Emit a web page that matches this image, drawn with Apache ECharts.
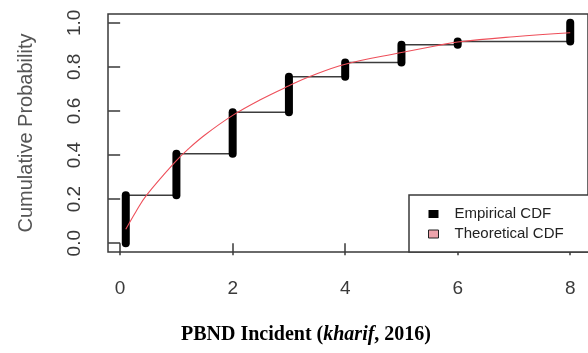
<!DOCTYPE html>
<html>
<head>
<meta charset="utf-8">
<script src="https://cdn.jsdelivr.net/npm/echarts@6/dist/echarts.min.js"></script>
<style>html,body{margin:0;padding:0;background:#fff}#c{width:588px;height:353px}</style>
</head>
<body>
<div id="c"></div>
<script>
// Empirical CDF: jump locations and cumulative levels
const ecdfX = [0.1, 1, 2, 3, 4, 5, 6, 8];
const ecdfLevel = [0.218, 0.406, 0.594, 0.755, 0.82, 0.90, 0.915, 1.0];
// Theoretical CDF curve
const theoX = [0.1, 0.28, 0.47, 1.0, 1.2, 1.5, 2.0, 2.5, 3.0, 3.36, 4.0, 5.0, 5.6, 6.0, 7.0, 8.0];
const theoY = [0.063, 0.143, 0.218, 0.375, 0.425, 0.49, 0.58, 0.652, 0.714, 0.755, 0.812, 0.865, 0.895, 0.913, 0.937, 0.955];
const xTicks = [0, 2, 4, 6, 8];
const yTicks = [0, 0.2, 0.4, 0.6, 0.8, 1.0];
const yTickLabels = ['0.0', '0.2', '0.4', '0.6', '0.8', '1.0'];

const vertData = ecdfX.map((x, i) => [x, i ? ecdfLevel[i - 1] : 0, ecdfLevel[i]]);
const horData = ecdfX.slice(0, -1).map((x, i) => [x, ecdfX[i + 1], ecdfLevel[i]]);
const theoData = theoX.map((x, i) => [x, theoY[i]]);

const chart = echarts.init(document.getElementById('c'), null, {renderer: 'canvas'});
const sans = 'Liberation Sans, Arial, sans-serif';
chart.setOption({
  animation: false,
  backgroundColor: '#fff',
  grid: {left: 108, top: 14, width: 482, height: 238, show: true, borderColor: '#3a3a3a', borderWidth: 1.5, backgroundColor: '#fff'},
  title: {
    left: 176, top: 320,
    text: '{b|PBND Incident (}{i|kharif}{b|, 2016)}',
    textStyle: {rich: {
      b: {fontFamily: 'Liberation Serif', fontWeight: 'bold', fontSize: 20, color: '#000'},
      i: {fontFamily: 'Liberation Serif', fontWeight: 'bold', fontStyle: 'italic', fontSize: 20, color: '#000'}
    }}
  },
  legend: {
    orient: 'vertical', left: 409, top: 195,
    padding: [10, 60, 9, 19],
    itemWidth: 10, itemHeight: 8, itemGap: 2,
    backgroundColor: '#fff', borderColor: '#3a3a3a', borderWidth: 1.5, borderRadius: 0,
    textStyle: {fontFamily: sans, fontSize: 15, color: '#222', lineHeight: 18, padding: [0, 0, 0, 11]},
    data: [
      {name: 'Empirical CDF', icon: 'rect', itemStyle: {color: '#000', borderWidth: 0}},
      {name: 'Theoretical CDF', icon: 'rect', itemStyle: {color: '#eda3ab', borderColor: '#222', borderWidth: 1}}
    ]
  },
  xAxis: {
    type: 'value', min: -0.216, max: 8.316,
    splitLine: {show: false},
    axisLine: {show: false},
    axisTick: {show: true, length: 12, customValues: xTicks, lineStyle: {color: '#3a3a3a', width: 1.5}},
    axisLabel: {customValues: xTicks, margin: 27, fontFamily: sans, fontSize: 19, color: '#3a3a3a'}
  },
  yAxis: {
    type: 'value', min: -0.04, max: 1.04,
    name: 'Cumulative Probability', nameLocation: 'middle', nameRotate: 90, nameGap: 72,
    nameTextStyle: {fontFamily: sans, fontSize: 20, color: '#555'},
    splitLine: {show: false},
    axisLine: {show: false},
    axisTick: {show: true, length: 12, customValues: yTicks, lineStyle: {color: '#3a3a3a', width: 1.5}},
    axisLabel: {customValues: yTicks, rotate: 90, margin: 24, fontFamily: sans, fontSize: 19, color: '#3a3a3a',
      formatter: v => yTickLabels[yTicks.findIndex(t => Math.abs(t - v) < 1e-9)]}
  },
  series: [
    {
      name: 'steps', type: 'custom', data: horData, z: 2,
      renderItem: (params, api) => {
        const a = api.coord([api.value(0), api.value(2)]);
        const b = api.coord([api.value(1), api.value(2)]);
        return {type: 'line', shape: {x1: a[0], y1: a[1], x2: b[0], y2: b[1]}, style: {stroke: '#3c3c3c', lineWidth: 1.5}};
      }
    },
    {
      name: 'Empirical CDF', type: 'custom', data: vertData, z: 3,
      itemStyle: {color: '#000'},
      renderItem: (params, api) => {
        const a = api.coord([api.value(0), api.value(1)]);
        const b = api.coord([api.value(0), api.value(2)]);
        return {type: 'line', shape: {x1: a[0], y1: a[1], x2: b[0], y2: b[1]}, style: {stroke: '#000', lineWidth: 8, lineCap: 'round'}};
      }
    },
    {
      name: 'Theoretical CDF', type: 'line', data: theoData, smooth: 0.4, symbol: 'none', z: 4,
      itemStyle: {color: '#eda3ab'},
      lineStyle: {color: '#ee4f5a', width: 1.1}
    }
  ]
});
</script>
</body>
</html>
